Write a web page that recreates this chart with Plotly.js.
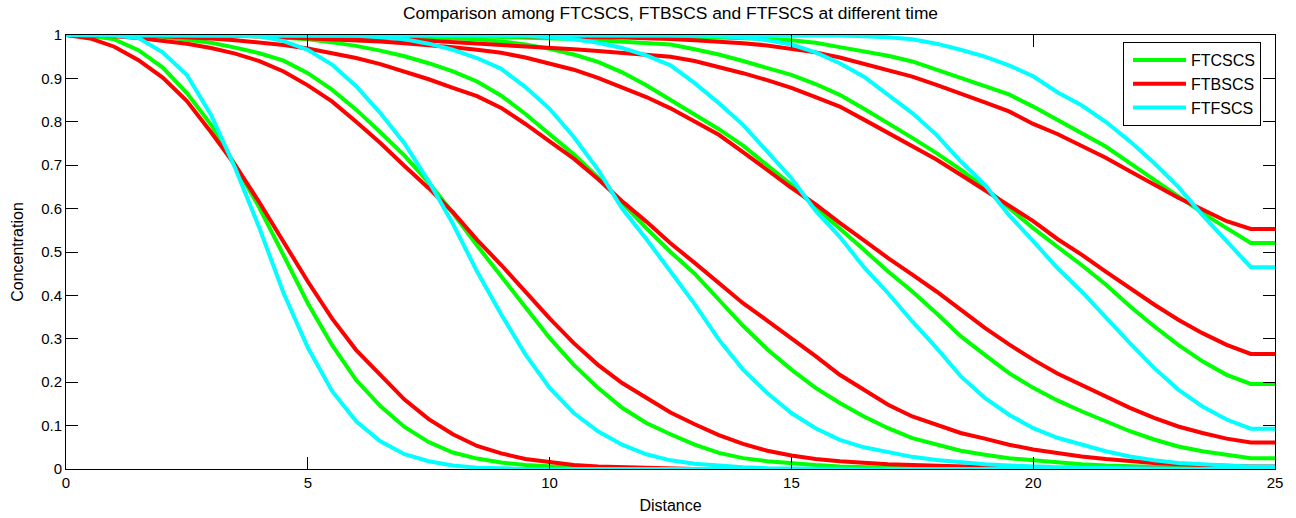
<!DOCTYPE html>
<html>
<head>
<meta charset="utf-8">
<script src="https://cdn.plot.ly/plotly-3.0.1.min.js"></script>
<style>
html,body{margin:0;padding:0;background:#ffffff;}
#chart{width:1296px;height:518px;}
</style>
</head>
<body>
<div id="chart"></div>
<script>
const distance = [0,0.5,1,1.5,2,2.5,3,3.5,4,4.5,5,5.5,6,6.5,7,7.5,8,8.5,9,9.5,10,10.5,11,11.5,12,12.5,13,13.5,14,14.5,15,15.5,16,16.5,17,17.5,18,18.5,19,19.5,20,20.5,21,21.5,22,22.5,23,23.5,24,24.5,25];

// FTCSCS (green), six time snapshots
const ftcscs_t1 = [1,0.998,0.99,0.965,0.925,0.866,0.793,0.70,0.602,0.49,0.382,0.286,0.205,0.145,0.097,0.062,0.038,0.024,0.015,0.009,0.005,0.003,0.001,0,0,0,0,0,0,0,0,0,0,0,0,0,0,0,0,0,0,0,0,0,0,0,0,0,0,0,0];
const ftcscs_t2 = [1,1,1,0.999,0.996,0.99,0.982,0.971,0.958,0.941,0.912,0.874,0.828,0.776,0.722,0.66,0.59,0.515,0.443,0.371,0.302,0.24,0.187,0.141,0.106,0.08,0.056,0.037,0.025,0.018,0.013,0.009,0.006,0.004,0.003,0.002,0.001,0,0,0,0,0,0,0,0,0,0,0,0,0,0];
const ftcscs_t3 = [1,1,1,1,1,1,0.999,0.998,0.997,0.994,0.99,0.983,0.975,0.964,0.951,0.935,0.916,0.893,0.86,0.818,0.772,0.725,0.672,0.612,0.555,0.5,0.45,0.39,0.33,0.276,0.229,0.187,0.152,0.121,0.094,0.071,0.056,0.042,0.033,0.025,0.02,0.015,0.011,0.008,0.006,0.004,0.003,0.002,0.001,0.001,0.001];
const ftcscs_t4 = [1,1,1,1,1,1,1,1,1,1,1,0.999,0.999,0.998,0.997,0.995,0.993,0.99,0.985,0.978,0.968,0.955,0.938,0.914,0.884,0.85,0.815,0.783,0.745,0.70,0.655,0.603,0.555,0.505,0.455,0.409,0.359,0.306,0.263,0.221,0.187,0.158,0.133,0.11,0.087,0.068,0.052,0.041,0.033,0.025,0.025];
const ftcscs_t5 = [1,1,1,1,1,1,1,1,1,1,1,1,1,1,0.999,0.999,0.998,0.997,0.996,0.995,0.993,0.991,0.988,0.985,0.982,0.978,0.967,0.955,0.94,0.925,0.908,0.887,0.862,0.83,0.797,0.763,0.728,0.69,0.648,0.6,0.555,0.512,0.47,0.425,0.375,0.329,0.286,0.248,0.217,0.196,0.196];
const ftcscs_t6 = [1,1,1,1,1,1,1,1,1,1,1,1,1,1,1,1,1,1,1,1,1,0.999,0.999,0.998,0.998,0.997,0.996,0.995,0.993,0.991,0.988,0.982,0.972,0.962,0.952,0.939,0.921,0.901,0.882,0.863,0.835,0.805,0.775,0.743,0.705,0.667,0.63,0.59,0.555,0.521,0.521];

// FTBSCS (red)
const ftbscs_t1 = [1,0.992,0.973,0.942,0.902,0.848,0.776,0.70,0.614,0.524,0.432,0.347,0.274,0.217,0.16,0.115,0.08,0.053,0.036,0.023,0.015,0.009,0.006,0.004,0.002,0.001,0,0,0,0,0,0,0,0,0,0,0,0,0,0,0,0,0,0,0,0,0,0,0,0,0];
const ftbscs_t2 = [1,0.999,0.997,0.993,0.987,0.98,0.97,0.957,0.94,0.916,0.884,0.847,0.8,0.751,0.698,0.647,0.592,0.528,0.47,0.409,0.347,0.29,0.24,0.198,0.163,0.13,0.103,0.078,0.058,0.042,0.031,0.023,0.018,0.014,0.011,0.009,0.007,0.005,0.004,0.003,0.002,0.002,0.001,0.001,0,0,0,0,0,0,0];
const ftbscs_t3 = [1,1,0.999,0.998,0.997,0.995,0.992,0.988,0.983,0.977,0.969,0.959,0.947,0.933,0.916,0.898,0.878,0.859,0.832,0.795,0.755,0.715,0.668,0.617,0.57,0.52,0.475,0.429,0.382,0.342,0.302,0.26,0.217,0.182,0.148,0.121,0.102,0.083,0.07,0.056,0.045,0.036,0.029,0.023,0.018,0.014,0.011,0.009,0.007,0.006,0.006];
const ftbscs_t4 = [1,1,1,1,1,0.999,0.999,0.998,0.997,0.995,0.993,0.991,0.988,0.985,0.981,0.977,0.972,0.966,0.959,0.948,0.935,0.92,0.901,0.88,0.857,0.831,0.801,0.77,0.73,0.688,0.648,0.61,0.567,0.527,0.486,0.448,0.409,0.367,0.325,0.287,0.252,0.22,0.194,0.167,0.141,0.118,0.098,0.083,0.07,0.061,0.061];
const ftbscs_t5 = [1,1,1,1,1,1,1,0.999,0.999,0.998,0.997,0.996,0.995,0.993,0.99,0.987,0.984,0.981,0.978,0.975,0.971,0.967,0.963,0.959,0.955,0.95,0.94,0.927,0.912,0.896,0.878,0.857,0.835,0.805,0.775,0.745,0.713,0.678,0.642,0.606,0.571,0.53,0.494,0.455,0.417,0.379,0.344,0.313,0.286,0.265,0.265];
const ftbscs_t6 = [1,1,1,1,1,1,1,1,1,1,1,1,1,0.999,0.999,0.999,0.998,0.998,0.998,0.997,0.997,0.996,0.995,0.994,0.993,0.991,0.988,0.985,0.981,0.976,0.969,0.96,0.948,0.934,0.92,0.904,0.885,0.866,0.845,0.824,0.795,0.772,0.745,0.717,0.686,0.655,0.625,0.598,0.571,0.553,0.553];

// FTFSCS (cyan)
const ftfscs_t1 = [1,1,0.999,0.993,0.96,0.908,0.816,0.693,0.555,0.405,0.28,0.18,0.11,0.064,0.034,0.018,0.008,0.003,0.001,0,0,0,0,0,0,0,0,0,0,0,0,0,0,0,0,0,0,0,0,0,0,0,0,0,0,0,0,0,0,0,0];
const ftfscs_t2 = [1,1,1,1,1,1,1,0.999,0.997,0.986,0.966,0.932,0.882,0.82,0.75,0.663,0.565,0.455,0.356,0.264,0.187,0.129,0.087,0.056,0.034,0.02,0.012,0.007,0.004,0.002,0.001,0,0,0,0,0,0,0,0,0,0,0,0,0,0,0,0,0,0,0,0];
const ftfscs_t3 = [1,1,1,1,1,1,1,1,1,1,1,0.999,0.998,0.995,0.99,0.98,0.966,0.947,0.922,0.88,0.83,0.765,0.69,0.6,0.53,0.455,0.38,0.298,0.229,0.175,0.129,0.094,0.067,0.05,0.038,0.028,0.021,0.015,0.011,0.008,0.005,0.004,0.003,0.002,0.001,0,0,0,0,0,0];
const ftfscs_t4 = [1,1,1,1,1,1,1,1,1,1,1,1,1,1,1,1,1,1,0.999,0.998,0.995,0.99,0.982,0.97,0.953,0.93,0.889,0.843,0.793,0.731,0.67,0.595,0.535,0.465,0.405,0.34,0.279,0.214,0.164,0.125,0.094,0.072,0.056,0.041,0.029,0.02,0.014,0.01,0.008,0.006,0.006];
const ftfscs_t5 = [1,1,1,1,1,1,1,1,1,1,1,1,1,1,1,1,1,1,1,1,1,1,1,1,1,1,0.999,0.997,0.994,0.988,0.978,0.96,0.935,0.904,0.863,0.82,0.77,0.709,0.655,0.585,0.525,0.463,0.409,0.348,0.29,0.233,0.183,0.144,0.114,0.093,0.093];
const ftfscs_t6 = [1,1,1,1,1,1,1,1,1,1,1,1,1,1,1,1,1,1,1,1,1,1,1,1,1,1,1,1,1,1,1,1,0.999,0.997,0.995,0.99,0.98,0.966,0.95,0.93,0.905,0.868,0.838,0.80,0.755,0.705,0.65,0.585,0.525,0.465,0.465];

const schemeNames = ["FTCSCS", "FTBSCS", "FTFSCS"];
const schemeColors = ["#00ff00", "#ff0000", "#00ffff"];
const schemeSeries = [
  [ftcscs_t1, ftcscs_t2, ftcscs_t3, ftcscs_t4, ftcscs_t5, ftcscs_t6],
  [ftbscs_t1, ftbscs_t2, ftbscs_t3, ftbscs_t4, ftbscs_t5, ftbscs_t6],
  [ftfscs_t1, ftfscs_t2, ftfscs_t3, ftfscs_t4, ftfscs_t5, ftfscs_t6]
];
const xTicks = [0, 5, 10, 15, 20, 25];
const yTicks = [0, 0.1, 0.2, 0.3, 0.4, 0.5, 0.6, 0.7, 0.8, 0.9, 1];
const yTickText = ["0", "0.1", "0.2", "0.3", "0.4", "0.5", "0.6", "0.7", "0.8", "0.9", "1"];

schemeSeries.forEach((group, s) => group.forEach((arr, t) => {
  if (arr.length !== distance.length) throw new Error(schemeNames[s] + " t" + (t + 1) + " length " + arr.length);
}));

const traces = [];
schemeSeries.forEach((group, s) => {
  group.forEach((arr, t) => {
    traces.push({
      type: "scatter",
      mode: "lines",
      x: distance,
      y: arr,
      name: schemeNames[s],
      legendgroup: schemeNames[s],
      showlegend: t === 0,
      line: {color: schemeColors[s], width: 4},
      hoverinfo: "skip"
    });
  });
});

const FONT = "Liberation Sans, Arial, Helvetica, sans-serif";

const layout = {
  width: 1296,
  height: 518,
  paper_bgcolor: "#ffffff",
  plot_bgcolor: "#ffffff",
  margin: {l: 66, r: 21, t: 35, b: 49, pad: 0},
  font: {family: FONT, size: 15, color: "#000000"},
  title: {
    text: "Comparison among FTCSCS, FTBSCS and FTFSCS at different time",
    font: {family: FONT, size: 17.4, color: "#000000"},
    xref: "paper", x: 0.5, xanchor: "center",
    yref: "container", y: 1 - 13 / 518, yanchor: "middle"
  },
  xaxis: {
    range: [0, 25],
    tickvals: xTicks,
    ticktext: xTicks.map(String),
    ticks: "inside",
    ticklen: 12,
    tickwidth: 1,
    tickcolor: "#000000",
    showline: true,
    linecolor: "#000000",
    linewidth: 1,
    mirror: "ticks",
    showgrid: false,
    zeroline: false,
    tickfont: {family: FONT, size: 15, color: "#000000"},
    title: {text: "Distance", font: {family: FONT, size: 16, color: "#000000"}, standoff: 9},
    automargin: false
  },
  yaxis: {
    range: [0, 1],
    tickvals: yTicks,
    ticktext: yTickText,
    ticks: "inside",
    ticklen: 12,
    tickwidth: 1,
    tickcolor: "#000000",
    showline: true,
    linecolor: "#000000",
    linewidth: 1,
    mirror: "ticks",
    showgrid: false,
    zeroline: false,
    tickfont: {family: FONT, size: 15, color: "#000000"},
    title: {text: "Concentration", font: {family: FONT, size: 16, color: "#000000"}, standoff: 13},
    automargin: false
  },
  showlegend: true,
  legend: {
    x: (1123 - 66) / 1209, y: (469 - 42) / 434,
    xanchor: "left", yanchor: "top",
    bgcolor: "#ffffff",
    bordercolor: "#000000",
    borderwidth: 1,
    itemwidth: 57,
    font: {family: FONT, size: 16, color: "#000000"},
    tracegroupgap: 0
  }
};

Plotly.newPlot("chart", traces, layout, {displayModeBar: false, staticPlot: true}).then(gd => {
  // lengthen the legend line samples to match the reference's longer swatches
  gd.querySelectorAll(".legend .legendlines path").forEach(p => p.setAttribute("d", "M9,0h53"));
});
</script>
</body>
</html>
